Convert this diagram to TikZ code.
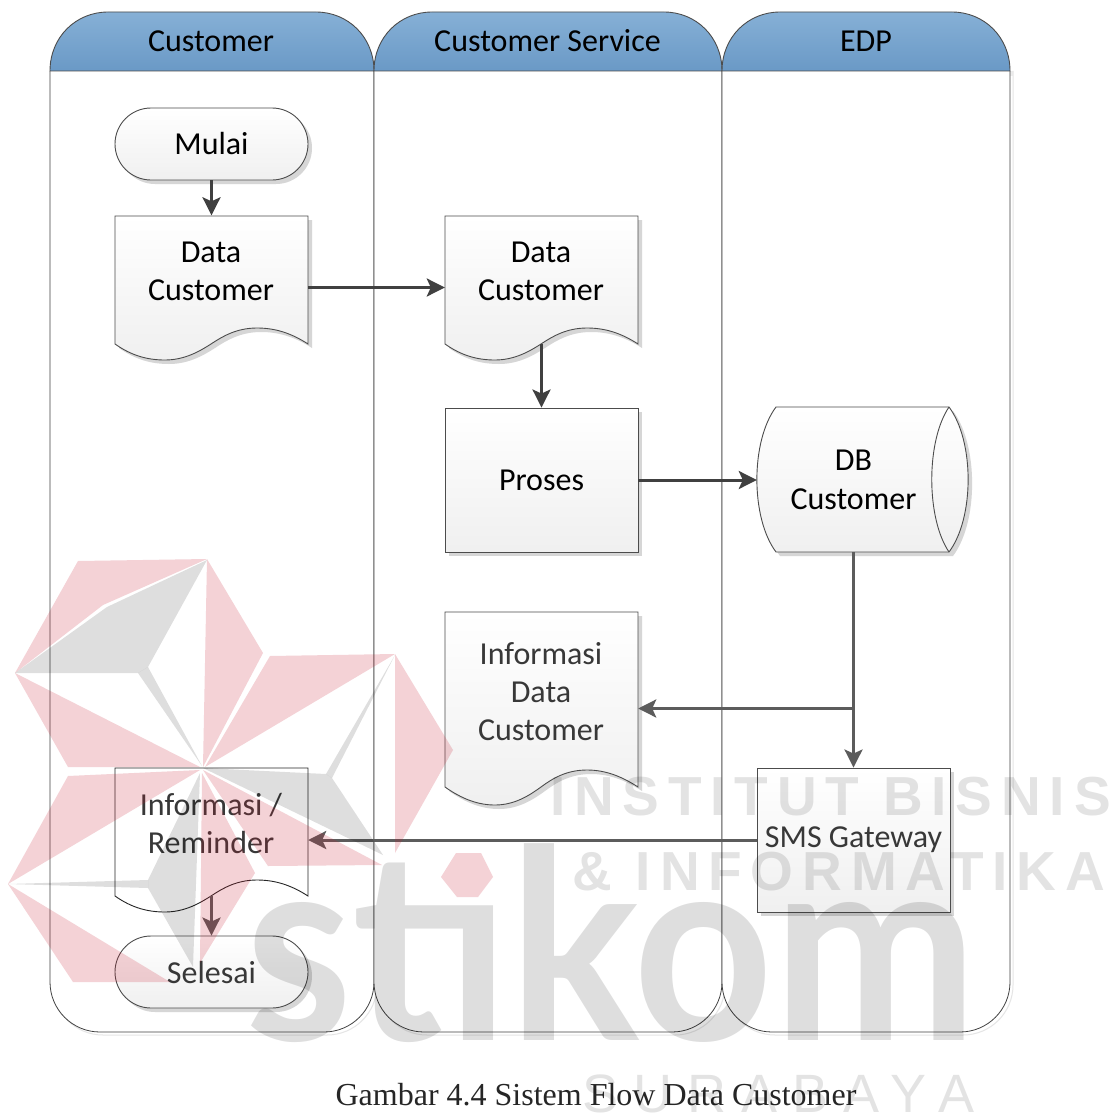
\documentclass[tikz,border=0pt]{standalone}
\usepackage{fontspec}
\usetikzlibrary{arrows.meta,shadows}
\setmainfont{Carlito}
\newfontfamily\capfont{Liberation Serif}
\newfontfamily\wmfont{Liberation Sans}
\newfontfamily\wmheavy{Lato}
\definecolor{hdtop}{HTML}{86B0D6}
\definecolor{hdbot}{HTML}{6A99C6}
\definecolor{shadowc}{HTML}{D6D6D6}
\definecolor{connA}{HTML}{404040}
\definecolor{connB}{HTML}{5C5C5C}
\definecolor{wmred}{RGB}{200,30,50}
\tikzset{
  lbl/.style={font=\fontsize{32}{38.4}\selectfont,align=center,inner sep=0pt,text=black},
  lblsoft/.style={lbl,text=black!78},
  boxfill/.style={draw=black!70,line width=.9pt,top color=white,bottom color=black!6},
  softshadow/.style={drop shadow={shadow xshift=4pt,shadow yshift=-4pt,fill=shadowc,opacity=1}},
  procbox/.style={boxfill,softshadow,rectangle,minimum width=193pt,minimum height=144pt,inner sep=0pt},
  termbox/.style={boxfill,softshadow,rectangle,rounded corners=36pt,minimum width=193pt,minimum height=72pt,inner sep=0pt},
  ghost/.style={rectangle,minimum width=193pt,inner sep=0pt},
  connector/.style={draw=connA,line width=3pt,-{Stealth[length=18pt,width=18pt,inset=4pt]}},
  softconn/.style={connector,draw=connB},
  lanehead/.style={draw=black!70,line width=.9pt,top color=hdtop,bottom color=hdbot},
  laneline/.style={draw=black!75,line width=.8pt},
  wmpink/.style={fill=wmred,opacity=.2},
  wmgray/.style={fill=black,opacity=.13},
  wmtext/.style={text=black,text opacity=.11,anchor=base west,inner sep=0pt},
}
% x1, x2 of a swimlane
\newcommand{\swimlane}[2]{%
  \fill[black!7] (#1+3,71) rectangle (#2+3,76);
  \draw[black!10,line width=1pt,rounded corners=50pt] (#1+3,71) -- (#1+3,1035) -- (#2+3,1035) -- (#2+3,71);
  \draw[laneline,fill=white,rounded corners=50pt] (#1,71) -- (#1,1032) -- (#2,1032) -- (#2,71);
  \path[lanehead] (#1,71) .. controls (#1,37) and (#1+26,12) .. (#1+58,12) -- (#2-58,12) .. controls (#2-26,12) and (#2,37) .. (#2,71) -- cycle;
}
% document outline, origin at its top left corner
\newcommand{\docoutline}{(0,128) .. controls (17,140) and (33,144) .. (50,144)
   .. controls (70,144) and (85,135) .. (96,128)
   .. controls (108,120) and (122,112) .. (142,112)
   .. controls (160,112) and (176,117) .. (193,128) -- (193,0) -- (0,0) -- cycle}
\newcommand{\docshape}[2]{%
  \begin{scope}[shift={(#1,#2)}]
    \fill[shadowc] [shift={(4,4)}] \docoutline;
    \path[boxfill] \docoutline;
  \end{scope}}
\begin{document}
\begin{tikzpicture}[x=1pt,y=-1pt]
\useasboundingbox (0,0) rectangle (1112,1116);
\fill[white] (0,0) rectangle (1112,1116);

% swimlanes
\swimlane{50}{374}
\swimlane{374}{722}
\swimlane{722}{1010}
\node[lbl] (hcust) at (211,41) {Customer};
\node[lbl] (hcs) at (547.5,41) {Customer Service};
\node[lbl] (hedp) at (866,41) {EDP};

% shapes
\node[termbox,lbl] (mulai) at (211.5,144) {Mulai};

\docshape{115}{216}
\node[ghost,minimum height=144pt] (dcA) at (211.5,287.5) {};
\node[lbl] (dcAt) at (211,271.5) {Data\\Customer};

\docshape{445}{216}
\node[ghost,minimum height=144pt] (dcB) at (541.5,287.5) {};
\node[lbl] (dcBt) at (541,271.5) {Data\\Customer};
\coordinate (dcBw) at (541.5,344);

\node[procbox,lbl] (proses) at (541.5,480) {Proses};

% database
\fill[shadowc] [shift={(4,4)}] (776,407) -- (949,407) .. controls (974.5,441) and (974.5,518) .. (949,552) -- (776,552) .. controls (750.5,518) and (750.5,441) .. (776,407) -- cycle;
\path[boxfill] (776,407) -- (949,407) .. controls (974.5,441) and (974.5,518) .. (949,552) -- (776,552) .. controls (750.5,518) and (750.5,441) .. (776,407) -- cycle;
\draw[black!70,line width=.9pt] (949,407) .. controls (926,441) and (926,518) .. (949,552);
\node[ghost,lbl,minimum height=144pt] (db) at (853.5,480) {DB\\Customer};

% information document (customer service lane)
\begin{scope}[shift={(445,612)}]
  \fill[shadowc] [shift={(4,4)}] (0,175) .. controls (17,187) and (33,193) .. (50,193) .. controls (70,193) and (85,183) .. (96,175) .. controls (108,166) and (122,158) .. (142,158) .. controls (160,158) and (176,164) .. (193,175) -- (193,0) -- (0,0) -- cycle;
  \path[boxfill] (0,175) .. controls (17,187) and (33,193) .. (50,193) .. controls (70,193) and (85,183) .. (96,175) .. controls (108,166) and (122,158) .. (142,158) .. controls (160,158) and (176,164) .. (193,175) -- (193,0) -- (0,0) -- cycle;
\end{scope}
\node[ghost,minimum height=193pt] (info) at (541.5,708.5) {};
\node[lblsoft] (infot) at (541,691.5) {Informasi\\Data\\Customer};

\node[procbox,lblsoft] (sms) at (853.5,840) {SMS Gateway};

% reminder document
\begin{scope}[shift={(115,768)}]
  \path[draw=black!85,line width=.9pt,fill=white] \docoutline;
\end{scope}
\node[ghost,minimum height=144pt] (rem) at (211.5,840) {};
\node[lblsoft] (remt) at (211,823.5) {Informasi /\\Reminder};
\coordinate (remw) at (211.5,896);

\node[termbox,lblsoft] (selesai) at (211.5,972) {Selesai};

% connectors
\draw[connector] (mulai.south) -- (dcA.north);
\draw[connector] (dcA.east) -- (dcB.west);
\draw[connector] (dcBw) -- (proses.north);
\draw[connector] (proses.east) -- (db.west);
\coordinate (jct) at (db.south |- info.east);
\draw[softconn] (db.south) -- (sms.north);
\draw[softconn] (jct) -- (info.east);
\draw[softconn] (sms.west) -- (rem.east);
\draw[softconn] (remw) -- (selesai.north);

% caption
\node[font=\capfont\fontsize{32}{36}\selectfont,inner sep=0pt,text=black!85] (cap) at (596,1095) {Gambar 4.4 Sistem Flow Data Customer};

% watermark: red star
\path[wmpink] (78,561) -- (207,559) -- (103,605) -- (15,673) -- cycle;
\path[wmpink] (207,559) -- (263,653) -- (203,767) -- cycle;
\path[wmpink] (15,673) -- (200,767) -- (68,767) -- cycle;
\path[wmpink] (270,656) -- (395,654) -- (205,767) -- cycle;
\path[wmpink] (395,654) -- (453,750) -- (395,853) -- cycle;
\path[wmpink] (203,770) -- (382,865) -- (268,866) -- cycle;
\path[wmpink] (200,770) -- (68,776) -- (8,884) -- cycle;
\path[wmpink] (202,773) -- (255,873) -- (200,963) -- cycle;
\path[wmpink] (8,884) -- (170,982) -- (73,982) -- cycle;
\path[wmpink] (441,877) -- (456,853) -- (481,853) -- (493,877) -- (478,897) -- (457,897) -- cycle;
% watermark: grey star
\path[wmgray] (15,673) -- (107,607) -- (207,560) -- (148,667) -- (138,673) -- cycle;
\path[wmgray] (138,673) -- (148,667) -- (202,766) -- cycle;
\path[wmgray] (395,655) -- (332,778) -- (326,774) -- cycle;
\path[wmgray] (203,768) -- (326,774) -- (332,778) -- (383,855) -- cycle;
\path[wmgray] (8,884) -- (148,880) -- (148,888) -- cycle;
\path[wmgray] (200,773) -- (148,880) -- (148,888) -- (193,967) -- cycle;
% watermark: lettering (the red hexagon stands in for the dot of the i)
\begin{scope}[even odd rule]
  \clip (0,0) rectangle (1112,1116) (436,820) rectangle (507,892);
  \node[wmtext,text opacity=.13,font=\wmheavy\bfseries\fontsize{265}{265}\selectfont,xscale=.92,transform shape] (wmA) at (245,1040) {stikom};
\end{scope}
\node[wmtext,font=\wmfont\bfseries\fontsize{55}{55}\selectfont\addfontfeature{LetterSpace=16}] (wmB) at (550,815) {INSTITUT BISNIS};
\node[wmtext,font=\wmfont\bfseries\fontsize{55}{55}\selectfont\addfontfeature{LetterSpace=16}] (wmC) at (572,890) {\& INFORMATIKA};
\node[wmtext,font=\wmfont\fontsize{54}{54}\selectfont\addfontfeature{LetterSpace=28}] (wmD) at (582,1112) {SURABAYA};
\end{tikzpicture}
\end{document}
